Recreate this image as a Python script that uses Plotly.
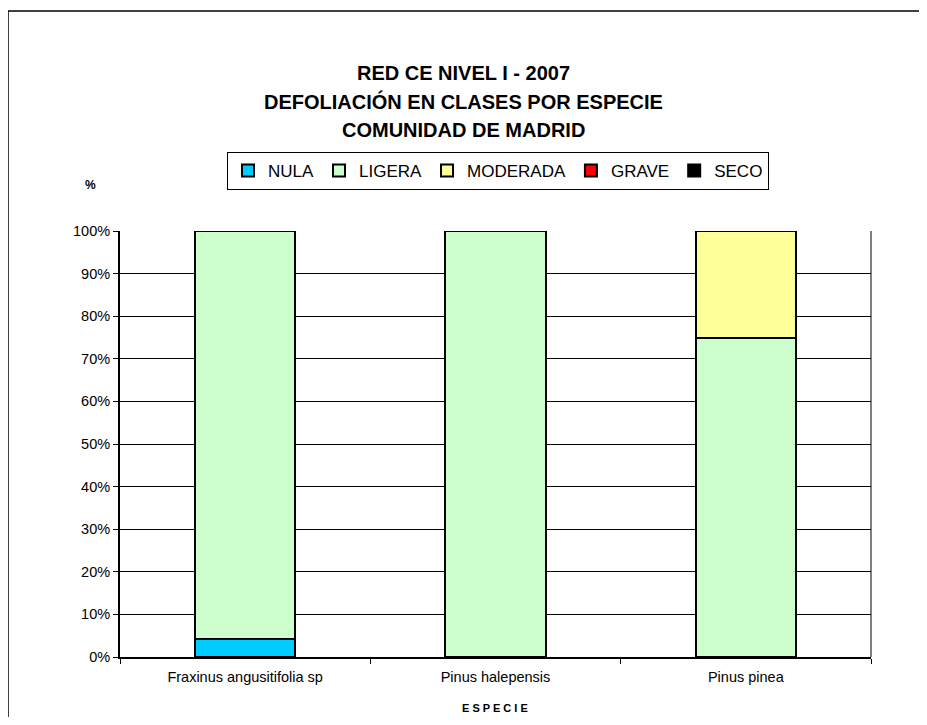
import plotly.graph_objects as go

categories = ["Fraxinus angusitifolia sp", "Pinus halepensis", "Pinus pinea"]
series_names = ["NULA", "LIGERA", "MODERADA", "GRAVE", "SECO"]
nula = [4.3, 0, 0]
ligera = [95.7, 100, 75]
moderada = [0, 0, 25]
grave = [0, 0, 0]
seco = [0, 0, 0]
colors = ["#00CCFF", "#CCFFCC", "#FFFF99", "#FF0000", "#000000"]
title_lines = ["RED CE NIVEL I - 2007", "DEFOLIACIÓN EN CLASES POR ESPECIE", "COMUNIDAD DE MADRID"]
y_ticks = [0, 10, 20, 30, 40, 50, 60, 70, 80, 90, 100]

OFF = 8  # page body margin
W, H = 927 - OFF, 725 - 2 * OFF
L, R, T, B = 120 - OFF, 871 - OFF, 231 - OFF, 657 - OFF
def px(xp):
    return (xp - OFF - L) / (R - L)
def py(yp):
    return (B - (yp - OFF)) / (B - T)

fig = go.Figure()
for name, vals, col in zip(series_names, [nula, ligera, moderada, grave, seco], colors):
    fig.add_trace(go.Bar(
        x=categories, y=vals, name=name,
        marker=dict(color=col, line=dict(color="black", width=2)),
        width=0.4,
    ))

font_family = "Liberation Sans, Arial, sans-serif"
annotations = []
for i, line in enumerate(title_lines):
    annotations.append(dict(
        text="<b>%s</b>" % line, x=px(463), y=py(73 + i * 28.5),
        xref="paper", yref="paper", showarrow=False,
        font=dict(size=20, color="black", family=font_family),
        xanchor="center", yanchor="middle",
    ))
annotations.append(dict(text="<b>%</b>", x=px(90), y=py(185), xref="paper", yref="paper",
                        showarrow=False, font=dict(size=12, color="black", family=font_family),
                        xanchor="center", yanchor="middle"))
annotations.append(dict(text="<b>E S P E C I E</b>", x=px(495), y=py(708), xref="paper", yref="paper",
                        showarrow=False, font=dict(size=11, color="black", family=font_family),
                        xanchor="center", yanchor="middle"))

shapes = [
    # outer chart border: left and top edges (right/bottom lie outside the picture)
    dict(type="line", xref="paper", yref="paper", x0=px(8), x1=px(8), y0=py(730), y1=py(11),
         line=dict(color="black", width=1.5), layer="below"),
    dict(type="line", xref="paper", yref="paper", x0=px(8), x1=px(960), y0=py(11), y1=py(11),
         line=dict(color="black", width=1.5), layer="below"),
    dict(type="line", xref="paper", yref="paper", x0=1, x1=1, y0=0, y1=1,
         line=dict(color="#808080", width=2), layer="below"),
]

fig.update_layout(
    barmode="stack",
    width=W, height=H,
    margin=dict(l=L, r=W - R, t=T, b=H - B, autoexpand=False),
    paper_bgcolor="white", plot_bgcolor="white",
    font=dict(family=font_family, color="black"),
    showlegend=True,
    legend=dict(
        orientation="h", x=px(498), xanchor="center", y=py(152), yanchor="top",
        bordercolor="black", borderwidth=1, bgcolor="white",
        font=dict(size=17, color="black", family=font_family),
        itemwidth=30, traceorder="normal", tracegroupgap=0,
    ),
    bargap=0.6,
    annotations=annotations,
    shapes=shapes,
)
fig.update_xaxes(
    showline=True, linecolor="black", linewidth=2,
    ticks="outside", tickcolor="black", ticklen=5, tickson="boundaries",
    tickfont=dict(size=14.5, color="black"), ticklabelstandoff=6,
    showgrid=False,
)
fig.update_yaxes(
    range=[0, 100], tickvals=y_ticks, ticktext=["%d%%" % v for v in y_ticks],
    showline=True, linecolor="black", linewidth=2,
    ticks="outside", tickcolor="black", ticklen=5,
    tickfont=dict(size=14.5, color="black"),
    showgrid=True, gridcolor="black", gridwidth=1,
    zeroline=False,
)
fig.write_html("out.html")
